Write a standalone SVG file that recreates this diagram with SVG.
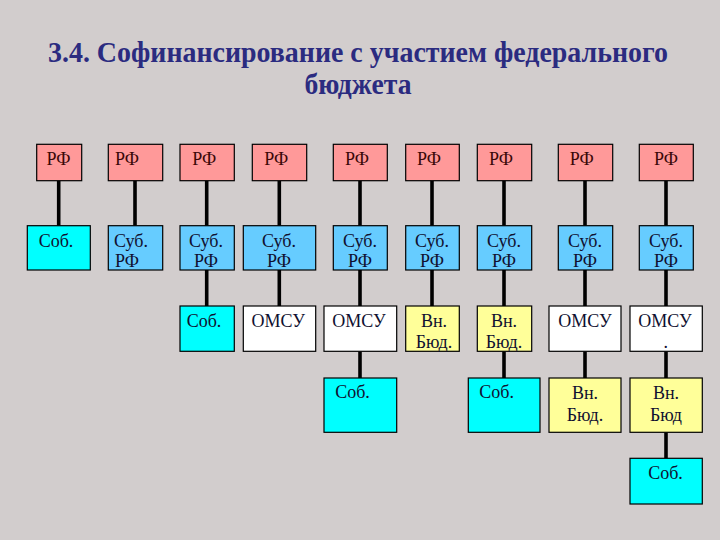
<svg xmlns="http://www.w3.org/2000/svg" width="720" height="540" viewBox="0 0 720 540">
<style>
.t{font-family:"Liberation Serif","Times New Roman",serif;font-weight:bold;fill:#2B2B80;font-size:29px;text-anchor:middle}
.b{stroke:#000;stroke-width:1.2}
.rf{fill:#FF9999}
.sub{fill:#66CCFF}
.sob{fill:#00FFFF}
.om{fill:#FFFFFF}
.vb{fill:#FFFF99}
.l{font-family:"Liberation Serif","Times New Roman",serif;font-size:18px;fill:#101030;text-anchor:middle}
.lr{fill:#3A0808}
.c line{stroke:#000;stroke-width:3.6}
</style>
<rect width="720" height="540" fill="#D2CDCD"/>
<text class="t" x="358" y="62" textLength="620" lengthAdjust="spacingAndGlyphs">3.4. Софинансирование с участием федерального</text>
<text class="t" x="358" y="94" textLength="107" lengthAdjust="spacingAndGlyphs">бюджета</text>
<g class="c" id="connectors">
<line x1="58.7" y1="180.7" x2="58.7" y2="225.7"/>
<line x1="135" y1="180.7" x2="135" y2="225.7"/>
<line x1="206.7" y1="180.7" x2="206.7" y2="225.7"/>
<line x1="206.7" y1="270" x2="206.7" y2="306"/>
<line x1="279.3" y1="180.7" x2="279.3" y2="225.7"/>
<line x1="279.3" y1="270" x2="279.3" y2="306"/>
<line x1="360" y1="180.7" x2="360" y2="225.7"/>
<line x1="360" y1="270" x2="360" y2="306"/>
<line x1="360" y1="351.3" x2="360" y2="378"/>
<line x1="432" y1="180.7" x2="432" y2="225.7"/>
<line x1="432" y1="270" x2="432" y2="306"/>
<line x1="504" y1="180.7" x2="504" y2="225.7"/>
<line x1="504" y1="270" x2="504" y2="306"/>
<line x1="504" y1="351.3" x2="504" y2="378"/>
<line x1="585" y1="180.7" x2="585" y2="225.7"/>
<line x1="585" y1="270" x2="585" y2="306"/>
<line x1="585" y1="351.3" x2="585" y2="378"/>
<line x1="666" y1="180.7" x2="666" y2="225.7"/>
<line x1="666" y1="270" x2="666" y2="306"/>
<line x1="666" y1="351.3" x2="666" y2="378"/>
<line x1="666" y1="432.3" x2="666" y2="458.3"/>
</g>
<g id="rf1"><rect class="b rf" x="36.7" y="144.3" width="45" height="36.4"/><text class="l lr" x="58.4" y="165">РФ</text></g>
<g id="rf2"><rect class="b rf" x="108.3" y="144.3" width="54.4" height="36.4"/><text class="l lr" x="127" y="165">РФ</text></g>
<g id="rf3"><rect class="b rf" x="180" y="144.3" width="54.3" height="36.4"/><text class="l lr" x="204.3" y="165">РФ</text></g>
<g id="rf4"><rect class="b rf" x="252.3" y="144.3" width="54.4" height="36.4"/><text class="l lr" x="276.3" y="165">РФ</text></g>
<g id="rf5"><rect class="b rf" x="333.3" y="144.3" width="54" height="36.4"/><text class="l lr" x="357" y="165">РФ</text></g>
<g id="rf6"><rect class="b rf" x="405.7" y="144.3" width="53.6" height="36.4"/><text class="l lr" x="429" y="165">РФ</text></g>
<g id="rf7"><rect class="b rf" x="477.3" y="144.3" width="54.4" height="36.4"/><text class="l lr" x="501" y="165">РФ</text></g>
<g id="rf8"><rect class="b rf" x="558.3" y="144.3" width="54.4" height="36.4"/><text class="l lr" x="581.7" y="165">РФ</text></g>
<g id="rf9"><rect class="b rf" x="639.3" y="144.3" width="54" height="36.4"/><text class="l lr" x="666" y="165">РФ</text></g>
<g id="sob1"><rect class="b sob" x="27.3" y="225.7" width="63" height="44.3"/><text class="l" x="56" y="247">Соб.</text></g>
<g id="sub2"><rect class="b sub" x="108.3" y="225.7" width="54.4" height="44.3"/><text class="l" x="131" y="246.7">Суб.</text><text class="l" x="127" y="267.3">РФ</text></g>
<g id="sub3"><rect class="b sub" x="180" y="225.7" width="54.3" height="44.3"/><text class="l" x="206" y="246.7">Суб.</text><text class="l" x="206" y="267.3">РФ</text></g>
<g id="sub4"><rect class="b sub" x="243.3" y="225.7" width="72.4" height="44.3"/><text class="l" x="279" y="246.7">Суб.</text><text class="l" x="279" y="267.3">РФ</text></g>
<g id="sub5"><rect class="b sub" x="333.3" y="225.7" width="54" height="44.3"/><text class="l" x="360" y="246.7">Суб.</text><text class="l" x="360" y="267.3">РФ</text></g>
<g id="sub6"><rect class="b sub" x="405.7" y="225.7" width="53.6" height="44.3"/><text class="l" x="432" y="246.7">Суб.</text><text class="l" x="432" y="267.3">РФ</text></g>
<g id="sub7"><rect class="b sub" x="477.3" y="225.7" width="54.4" height="44.3"/><text class="l" x="504" y="246.7">Суб.</text><text class="l" x="504" y="267.3">РФ</text></g>
<g id="sub8"><rect class="b sub" x="558.3" y="225.7" width="54.4" height="44.3"/><text class="l" x="585" y="246.7">Суб.</text><text class="l" x="585" y="267.3">РФ</text></g>
<g id="sub9"><rect class="b sub" x="639.3" y="225.7" width="54" height="44.3"/><text class="l" x="666" y="246.7">Суб.</text><text class="l" x="666" y="267.3">РФ</text></g>
<g id="sob3"><rect class="b sob" x="180" y="306" width="54.3" height="45.3"/><text class="l" x="204" y="326.7">Соб.</text></g>
<g id="omsu4"><rect class="b om" x="243.3" y="306" width="72.4" height="45.3"/><text class="l" x="278.3" y="326.7">ОМСУ</text></g>
<g id="omsu5"><rect class="b om" x="324" y="306" width="72.7" height="45.3"/><text class="l" x="359" y="326.7">ОМСУ</text></g>
<g id="vb6"><rect class="b vb" x="405.7" y="306" width="53.6" height="45.3"/><text class="l" x="434" y="326.7">Вн.</text><text class="l" x="434" y="347.5">Бюд.</text></g>
<g id="vb7"><rect class="b vb" x="477.3" y="306" width="54.4" height="45.3"/><text class="l" x="504" y="326.7">Вн.</text><text class="l" x="504" y="347.5">Бюд.</text></g>
<g id="omsu8"><rect class="b om" x="549" y="306" width="72" height="45.3"/><text class="l" x="585" y="326.7">ОМСУ</text></g>
<g id="omsu9"><rect class="b om" x="630" y="306" width="72.3" height="45.3"/><text class="l" x="665" y="326.7">ОМСУ</text><text class="l" x="665.7" y="347.5">.</text></g>
<g id="sob5"><rect class="b sob" x="324" y="378" width="72.7" height="54.3"/><text class="l" x="352.5" y="398.3">Соб.</text></g>
<g id="sob7"><rect class="b sob" x="468.3" y="378" width="71.7" height="54.3"/><text class="l" x="496.7" y="398.3">Соб.</text></g>
<g id="vb8"><rect class="b vb" x="549" y="378" width="72" height="54.3"/><text class="l" x="585" y="399.3">Вн.</text><text class="l" x="585" y="420.5">Бюд.</text></g>
<g id="vb9"><rect class="b vb" x="630" y="378" width="72.3" height="54.3"/><text class="l" x="666" y="399.3">Вн.</text><text class="l" x="666" y="420.5">Бюд</text></g>
<g id="sob9"><rect class="b sob" x="630" y="458.3" width="72.3" height="45.7"/><text class="l" x="665.5" y="479">Соб.</text></g>
</svg>
